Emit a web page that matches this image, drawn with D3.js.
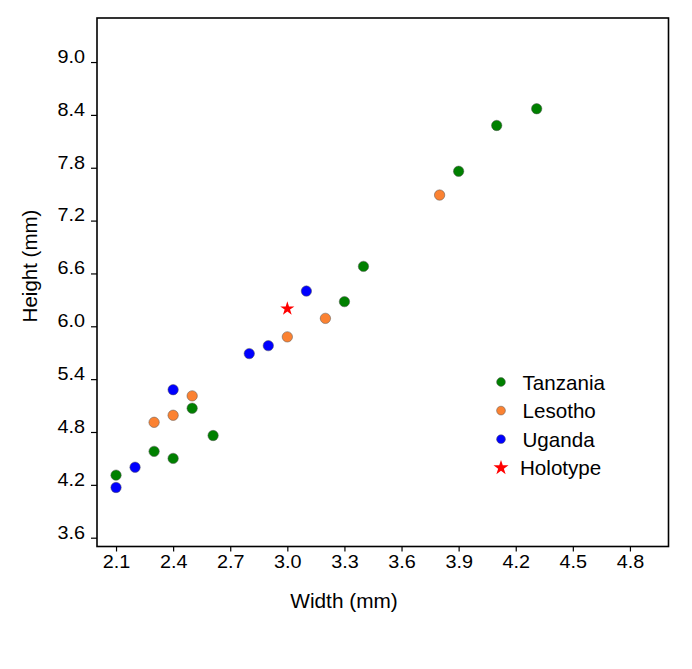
<!DOCTYPE html>
<html>
<head>
<meta charset="utf-8">
<script src="https://cdn.jsdelivr.net/npm/d3@7"></script>
<style>
  body { margin:0; background:#fff; }
  text { font-family:"Liberation Sans", Arial, sans-serif; fill:#000; }
</style>
</head>
<body>
<svg id="svg" width="692" height="669"></svg>
<script>
// values
var tanzania = [[2.1,4.31],[2.3,4.58],[2.4,4.50],[2.5,5.07],[2.61,4.76],
                [3.3,6.28],[3.4,6.68],[3.9,7.76],[4.1,8.28],[4.31,8.47]];
var lesotho  = [[2.3,4.91],[2.4,4.99],[2.5,5.21],[3.0,5.88],[3.2,6.09],[3.8,7.49]];
var uganda   = [[2.1,4.17],[2.2,4.40],[2.4,5.28],[2.8,5.69],[2.9,5.78],[3.1,6.40]];
var holotype = [[3.0,6.20]];

var xTicks = [2.1,2.4,2.7,3.0,3.3,3.6,3.9,4.2,4.5,4.8],
    yTicks = [3.6,4.2,4.8,5.4,6.0,6.6,7.2,7.8,8.4,9.0];

var series = [
  {name:"Tanzania", data:tanzania, color:"#008000"},
  {name:"Lesotho",  data:lesotho,  color:"#fb8232"},
  {name:"Uganda",   data:uganda,   color:"#0000ff"}
];

var svg = d3.select("#svg");

var L = 97, T = 18, R = 668, B = 546.5,
    sx = 1.1;   // tick labels in the picture are a bit wide

var x = d3.scaleLinear().domain([2.0, 5.0]).range([L, R]),
    y = d3.scaleLinear().domain([3.5, 9.5]).range([B, T]);

// axes
var gx = svg.append("g").attr("transform","translate(0,"+B+")")
    .call(d3.axisBottom(x).tickValues(xTicks).tickFormat(d3.format(".1f")).tickSize(5).tickPadding(4));
var gy = svg.append("g").attr("transform","translate("+L+",0)")
    .call(d3.axisLeft(y).tickValues(yTicks).tickFormat(d3.format(".1f")).tickSize(6).tickPadding(6));

[gx, gy].forEach(function(g){
  g.select(".domain").remove();
  g.selectAll(".tick line").attr("stroke","#000").attr("stroke-width",1.2);
  g.selectAll(".tick text").attr("font-size",18).attr("font-family",null)
    .attr("transform","scale("+sx+",1)");
});
gy.selectAll(".tick text").attr("x",-12/sx).attr("dy","0.02em");

// frame
svg.append("rect").attr("x",L).attr("y",T).attr("width",R-L+0.5).attr("height",B-T)
  .attr("fill","none").attr("stroke","#000").attr("stroke-width",1.6);

// points
series.forEach(function(s){
  svg.append("g").selectAll("circle").data(s.data).enter()
    .append("circle")
    .attr("cx",d=>x(d[0])).attr("cy",d=>y(d[1])).attr("r",5.2)
    .attr("fill",s.color).attr("stroke","#555").attr("stroke-width",0.5);
});

var star = d3.symbol().type(d3.symbolStar).size(62);
svg.append("g").selectAll("path").data(holotype).enter()
  .append("path")
  .attr("transform",d=>"translate("+x(d[0])+","+y(d[1])+")")
  .attr("d",star).attr("fill","#ff0000");

// axis titles
svg.append("text").attr("x",344).attr("y",608).attr("text-anchor","middle")
  .attr("font-size",20.8).text("Width (mm)");
svg.append("text").attr("transform","translate(36.5,266) rotate(-90)").attr("text-anchor","middle")
  .attr("font-size",20.5).text("Height (mm)");

// legend
var leg = svg.append("g").attr("transform","translate(501,382)");
var items = series.map(s=>({name:s.name, color:s.color, star:false}))
    .concat([{name:"Holotype", color:"#ff0000", star:true}]);

var row = leg.selectAll("g").data(items).enter()
  .append("g").attr("transform",(d,i)=>"translate(0,"+(i*28.6)+")");

row.filter(d=>!d.star).append("circle").attr("r",4.4)
  .attr("fill",d=>d.color).attr("stroke","#555").attr("stroke-width",0.5);
row.filter(d=>d.star).append("path").attr("d",d3.symbol().type(d3.symbolStar).size(70)).attr("fill","#ff0000");
row.append("text").attr("x",d=>d.star?19:21.5).attr("y",7.5).attr("font-size",20.6).text(d=>d.name);
</script>
</body>
</html>
